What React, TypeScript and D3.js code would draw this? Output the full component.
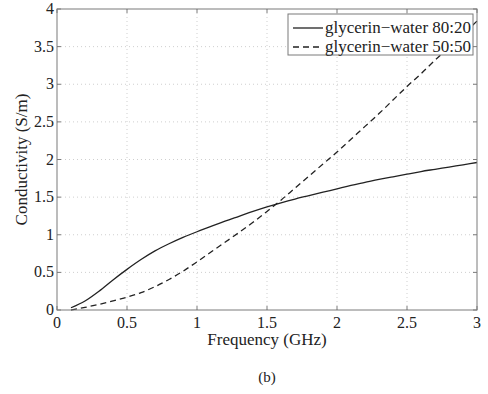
import React from "react";
import * as d3 from "d3";

const freq = [0.1,0.2,0.3,0.4,0.5,0.6,0.7,0.8,0.9,1.0,1.1,1.2,1.3,1.4,1.5,1.6,1.7,1.8,1.9,2.0,2.1,2.2,2.3,2.4,2.5,2.6,2.7,2.8,2.9,3.0];
const gw8020 = [0.03,0.12,0.25,0.40,0.54,0.67,0.785,0.88,0.965,1.04,1.11,1.18,1.245,1.31,1.37,1.425,1.475,1.52,1.565,1.61,1.655,1.695,1.735,1.77,1.805,1.84,1.87,1.90,1.93,1.96];
const gw5050 = [0.0,0.035,0.075,0.12,0.17,0.23,0.31,0.405,0.515,0.64,0.77,0.9,1.03,1.165,1.31,1.46,1.62,1.78,1.94,2.1,2.27,2.44,2.61,2.79,2.97,3.14,3.32,3.49,3.66,3.84];
const xTicks = [0,0.5,1,1.5,2,2.5,3];
const yTicks = [0,0.5,1,1.5,2,2.5,3,3.5,4];
const seriesNames = ["glycerin\u2212water 80:20", "glycerin\u2212water 50:50"];

const W = 488, H = 394;
const L = 57, R = 477, T = 9, B = 310;
const font = "Liberation Serif, DejaVu Serif, serif";

export default function App() {
  const x = d3.scaleLinear().domain([0, 3]).range([L, R]);
  const y = d3.scaleLinear().domain([0, 4]).range([B, T]);
  const line = (vals: number[]) =>
    d3.line<number>().x((_, i) => x(freq[i])).y((d) => y(d)).curve(d3.curveMonotoneX)(vals) || "";
  const axisColor = "#7a7a7a";
  const gridColor = "#cfcfcf";
  const legX = 288, legY = 14, legW = 185, legH = 41;
  return (
    <svg width={W} height={H} style={{ position: "absolute", left: 0, top: 0, background: "#fff", fontFamily: font }}>
      <rect x={0} y={0} width={W} height={H} fill="#fff" />
      {xTicks.slice(1, -1).map((t) => (
        <line key={"gx" + t} x1={x(t)} x2={x(t)} y1={B} y2={T} stroke={gridColor} strokeWidth={1} strokeDasharray="1,3" />
      ))}
      {yTicks.slice(1, -1).map((t) => (
        <line key={"gy" + t} x1={L} x2={R} y1={y(t)} y2={y(t)} stroke={gridColor} strokeWidth={1} strokeDasharray="1,3" />
      ))}
      <path d={line(gw8020)} fill="none" stroke="#222" strokeWidth={1.3} />
      <path d={line(gw5050)} fill="none" stroke="#222" strokeWidth={1.3} strokeDasharray="6,4" />
      <rect x={L} y={T} width={R - L} height={B - T} fill="none" stroke={axisColor} strokeWidth={1} />
      {xTicks.map((t) => (
        <g key={"tx" + t}>
          <line x1={x(t)} x2={x(t)} y1={B} y2={B - 4} stroke={axisColor} />
          <line x1={x(t)} x2={x(t)} y1={T} y2={T + 4} stroke={axisColor} />
          <text x={x(t)} y={B + 18} textAnchor="middle" fontFamily={font} fontSize={16} fill="#222">{t}</text>
        </g>
      ))}
      {yTicks.map((t) => (
        <g key={"ty" + t}>
          <line x1={L} x2={L + 4} y1={y(t)} y2={y(t)} stroke={axisColor} />
          <line x1={R} x2={R - 4} y1={y(t)} y2={y(t)} stroke={axisColor} />
          <text x={L - 3} y={y(t) + 5} textAnchor="end" fontFamily={font} fontSize={16} fill="#222">{t}</text>
        </g>
      ))}
      <text x={(L + R) / 2} y={345} textAnchor="middle" fontFamily={font} fontSize={17} fill="#222">Frequency (GHz)</text>
      <text transform={`translate(27,${(T + B) / 2}) rotate(-90)`} textAnchor="middle" fontFamily={font} fontSize={17} fill="#222">Conductivity (S/m)</text>
      <text x={(L + R) / 2} y={382} textAnchor="middle" fontFamily={font} fontSize={15} fill="#222">(b)</text>
      <rect x={legX} y={legY} width={legW} height={legH} fill="#fff" stroke={axisColor} strokeWidth={1} />
      {seriesNames.map((n, i) => (
        <g key={n}>
          <line x1={293} x2={323} y1={legY + 14 + i * 19} y2={legY + 14 + i * 19} stroke="#222" strokeWidth={1.3} strokeDasharray={i === 1 ? "6,4" : undefined} />
          <text x={325} y={legY + 19 + i * 19} fontFamily={font} fontSize={17} fill="#222">{n}</text>
        </g>
      ))}
    </svg>
  );
}
